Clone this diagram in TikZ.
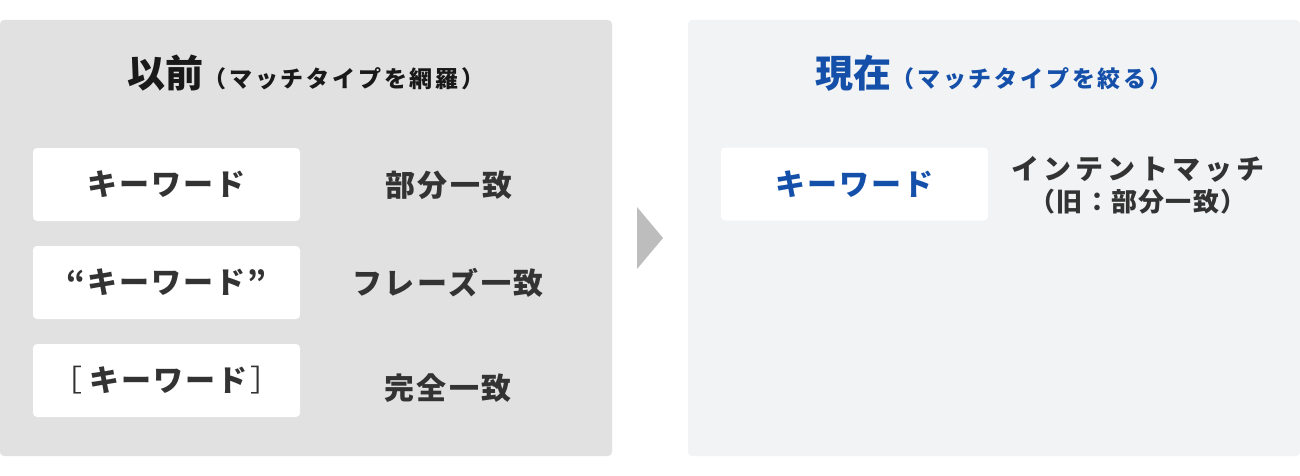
\documentclass[tikz,border=0pt]{standalone}
\usepackage{fontspec}
\setmainfont{Noto Sans CJK JP}
\definecolor{oldgray}{HTML}{E1E1E1}
\definecolor{nowgray}{HTML}{F2F3F5}
\definecolor{nowblue}{HTML}{1450AA}
\definecolor{ink}{HTML}{333333}
\definecolor{arrowgray}{HTML}{BDBDBD}
\newcommand\ttlfont{\fontsize{38}{38}\selectfont\bfseries}
\newcommand\subfont{\fontsize{23}{23}\selectfont\bfseries\addfontfeature{LetterSpace=12}}
\newcommand\kwfont{\fontsize{30}{30}\selectfont\bfseries\addfontfeature{LetterSpace=7}}
\newcommand\thin[1]{{\mdseries\addfontfeature{LetterSpace=7}#1}}

\begin{document}
\begin{tikzpicture}[x=1pt,y=-1pt,
        kwbox/.style={fill=white,rounded corners=4pt,minimum width=267pt,minimum height=73pt,inner sep=0pt,font=\kwfont,text=ink},
        matchlbl/.style={inner sep=0pt,font=\kwfont,text=ink}]
        \useasboundingbox(0,0)rectangle(1300,476);
        \fill[oldgray,rounded corners=4pt](0,20)rectangle(612,456);
        \fill[nowgray,rounded corners=4pt](688,20)rectangle(1300,456);
        \fill[arrowgray](637,207)--(663,238)--(637,269)--cycle;
        % before
        \node[text=black!90](oldttl)at(306,73){\ttlfont 以前\subfont（マッチタイプを網羅）};
        \node[kwbox](kw1)at(166.5,184.5){キーワード};
        \node[kwbox](kw2)at(166.5,282.5){“キーワード”};
        \node[kwbox](kw3)at(166.5,380.5){\thin{［}\hspace{7pt}キーワード\hspace{3pt}\thin{］}};
        \node[matchlbl](m1)at(449,185){部分一致};
        \node[matchlbl](m2)at(448,283){\addfontfeature{LetterSpace=9}フレーズ一致};
        \node[matchlbl](m3)at(448,388){完全一致};
        % now
        \node[text=nowblue](nowttl)at(994,73){\ttlfont 現在\subfont（マッチタイプを絞る）};
        \node[kwbox,text=nowblue](kw4)at(854.5,184){キーワード};
        \node[matchlbl,align=center](m4)at(1138,185){{\fontsize{28}{30}\selectfont\bfseries\addfontfeature{LetterSpace=15}インテントマッチ}\\[2pt]{\fontsize{26}{30}\selectfont\bfseries\addfontfeature{LetterSpace=5}（旧：部分一致）}};
\end{tikzpicture}
\end{document}
